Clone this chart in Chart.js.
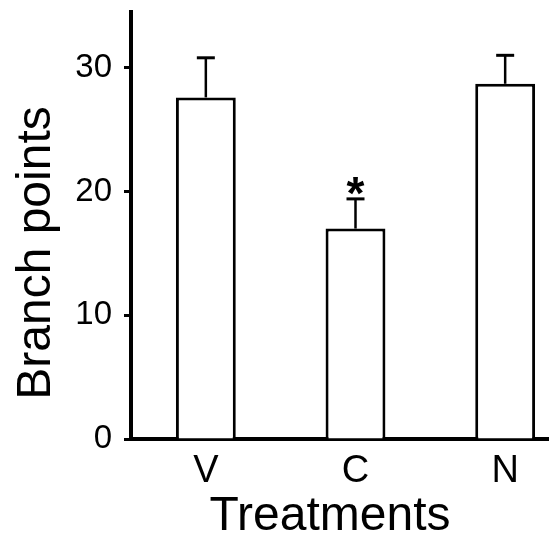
<!DOCTYPE html>
<html>
<head>
<meta charset="utf-8">
<script src="https://cdn.jsdelivr.net/npm/chart.js@4/dist/chart.umd.min.js"></script>
<style>
  html, body { margin: 0; padding: 0; background: #fff; overflow: hidden; }
  #wrap { position: relative; width: 580px; height: 540px; }
</style>
</head>
<body>
<div id="wrap"><canvas id="branchChart"></canvas></div>
<script>
// ==================== DATI ====================
const categories = ['V', 'C', 'N'];
const meanValues = [27.6, 17.0, 28.7];
const errorTops = [30.8, 19.4, 31.0];   // media + SEM
const markers = ['', '*', ''];
const yTicks = [0, 10, 20, 30];

const FONT = "'Liberation Sans', Arial, sans-serif";

// Barre di errore (solo verso l'alto) + asterisco di significativita'
const errorBarPlugin = {
  id: 'errorBars',
  afterDatasetsDraw(chart) {
    const ctx = chart.ctx;
    const yScale = chart.scales.y;
    const meta = chart.getDatasetMeta(0);
    ctx.save();
    ctx.strokeStyle = '#000';
    ctx.fillStyle = '#000';
    meta.data.forEach((bar, i) => {
      const x = bar.x;
      const yBar = bar.y;
      const yTop = yScale.getPixelForValue(errorTops[i]);
      ctx.lineWidth = 2.5;
      ctx.beginPath();
      ctx.moveTo(x, yBar);
      ctx.lineTo(x, yTop);
      ctx.stroke();
      ctx.lineWidth = 3;
      ctx.beginPath();
      ctx.moveTo(x - 9, yTop);
      ctx.lineTo(x + 9, yTop);
      ctx.stroke();
      if (markers[i]) {
        ctx.font = 'bold 46px ' + FONT;
        ctx.textAlign = 'center';
        ctx.textBaseline = 'alphabetic';
        ctx.fillText(markers[i], x, yTop + 10);
      }
    });
    ctx.restore();
  }
};

// Titoli degli assi
const axisTitlePlugin = {
  id: 'axisTitles',
  afterDraw(chart) {
    const ctx = chart.ctx;
    ctx.save();
    ctx.fillStyle = '#000';
    ctx.font = '48px ' + FONT;
    ctx.textAlign = 'center';
    ctx.textBaseline = 'alphabetic';
    ctx.fillText('Treatments', 330, 530);
    ctx.translate(50, 253);
    ctx.rotate(-Math.PI / 2);
    ctx.fillText('Branch points', 0, 0);
    ctx.restore();
  }
};

new Chart(document.getElementById('branchChart'), {
  type: 'bar',
  data: {
    labels: categories,
    datasets: [{
      data: meanValues,
      backgroundColor: '#fff',
      borderColor: '#000',
      borderWidth: 3,
      barPercentage: 0.4,
      categoryPercentage: 1
    }]
  },
  options: {
    responsive: true,
    maintainAspectRatio: false,
    animation: false,
    layout: { padding: { top: 12, right: 0, left: 0, bottom: 0 } },
    plugins: {
      legend: { display: false },
      tooltip: { enabled: false }
    },
    scales: {
      x: {
        type: 'category',
        offset: true,
        border: { display: true, color: '#000', width: 4 },
        grid: { display: false, drawTicks: false },
        ticks: {
          color: '#000',
          font: { family: FONT, size: 38 },
          padding: 10
        },
        afterFit(scale) {
          scale.height = 101;
          scale.paddingLeft = 0;
          scale.paddingRight = 0;
        }
      },
      y: {
        min: 0,
        max: 34.5,
        border: { display: true, color: '#000', width: 4 },
        grid: {
          drawOnChartArea: false,
          drawTicks: true,
          tickLength: 7,
          tickWidth: 3,
          tickColor: '#000'
        },
        afterBuildTicks(scale) {
          scale.ticks = yTicks.map(v => ({ value: v }));
        },
        ticks: {
          color: '#000',
          font: { family: FONT, size: 33 },
          padding: 12
        },
        afterFit(scale) {
          scale.width = 131;
          scale.paddingTop = 0;
          scale.paddingBottom = 0;
        }
      }
    }
  },
  plugins: [errorBarPlugin, axisTitlePlugin]
});
</script>
</body>
</html>
